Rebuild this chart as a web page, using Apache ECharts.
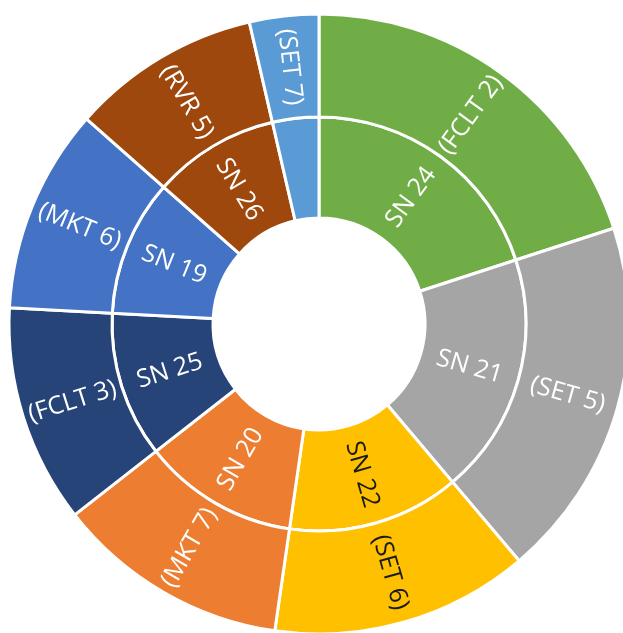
<!DOCTYPE html>
<html>
<head>
<meta charset="utf-8">
<script src="https://cdn.jsdelivr.net/npm/echarts@6/dist/echarts.min.js"></script>
<style>
html,body{margin:0;padding:0;background:#fff;}
#chart{width:623px;height:633px;}
</style>
</head>
<body>
<div id="chart"></div>
<script>
const innerNames = ['SN 24', 'SN 21', 'SN 22', 'SN 20', 'SN 25', 'SN 19', 'SN 26', ''];
const outerNames = ['(FCLT 2)', '(SET 5)', '(SET 6)', '(MKT 7)', '(FCLT 3)', '(MKT 6)', '(RVR 5)', '(SET 7)'];
const values = [72, 67.8, 48.4, 43.8, 41, 38.4, 35.6, 13];
const colors = ['#70AD47', '#A5A5A5', '#FFC000', '#ED7D31', '#264478', '#4472C4', '#9E480E', '#5B9BD5'];
const labelColors = ['#fff', '#fff', '#1a1a1a', '#fff', '#fff', '#fff', '#fff', '#fff'];

const data = innerNames.map((n, i) => ({
  name: n,
  value: values[i],
  itemStyle: { color: colors[i] },
  label: { color: labelColors[i] },
  children: [{
    name: outerNames[i],
    value: values[i],
    itemStyle: { color: colors[i] },
    label: { color: labelColors[i] }
  }]
}));

const chart = echarts.init(document.getElementById('chart'), null, { renderer: 'canvas' });
chart.setOption({
  animation: false,
  series: [{
    type: 'sunburst',
    center: [319, 324],
    startAngle: 90,
    clockwise: true,
    sort: null,
    nodeClick: false,
    data: data,
    itemStyle: { borderColor: '#fff', borderWidth: 3 },
    label: {
      rotate: 'radial',
      fontFamily: 'Open Sans',
      fontSize: 25,
      color: '#fff'
    },
    emphasis: { disabled: true },
    levels: [
      {},
      { r0: 106, r: 207 },
      { r0: 207, r: 310 }
    ]
  }]
});
</script>
</body>
</html>
